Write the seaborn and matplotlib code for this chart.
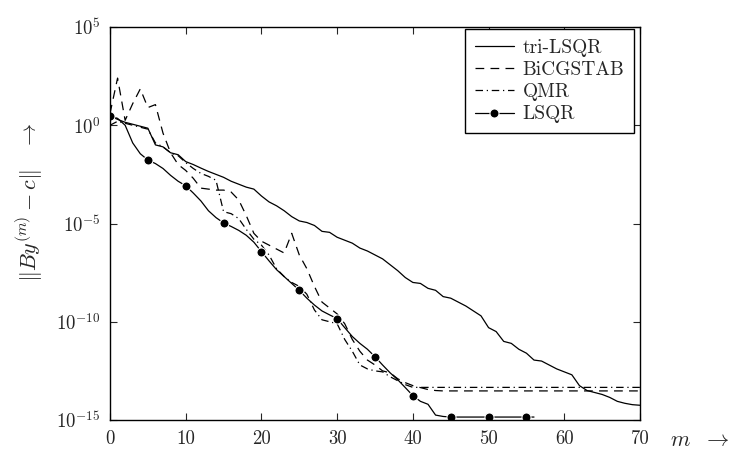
import numpy as np
import pandas as pd
import matplotlib
matplotlib.use("Agg")
import matplotlib.pyplot as plt
from matplotlib.ticker import FixedLocator, FixedFormatter
import seaborn as sns

# residual norms, stored as log10 exponents per iteration m
m_tri = list(range(0, 71))
tri_lsqr = [0.47, 0.3, 0.15, 0.05, -0.05, -0.15, -1.0, -1.1, -1.4, -1.5,
            -1.85, -2.0, -2.18, -2.35, -2.5, -2.65, -2.85, -3.0, -3.15, -3.25,
            -3.6, -3.9, -4.1, -4.35, -4.65, -4.87, -4.95, -5.1, -5.4, -5.45,
            -5.7, -5.85, -6.0, -6.25, -6.4, -6.6, -6.8, -7.1, -7.4, -7.75,
            -8.0, -8.05, -8.3, -8.4, -8.72, -8.8, -9.0, -9.2, -9.45, -9.7,
            -10.3, -10.5, -11.0, -11.1, -11.4, -11.6, -11.95, -12.0, -12.2, -12.4,
            -12.55, -12.7, -13.25, -13.5, -13.6, -13.7, -13.85, -14.05, -14.15, -14.22,
            -14.25]

m_bicg = list(range(0, 71))
bicgstab = [0.6, 2.4, 0.25, 1.1, 1.85, 0.9, 1.05, -0.4, -1.4, -2.0,
            -2.3, -2.7, -3.2, -3.25, -3.3, -3.3, -3.4, -3.8, -4.6, -5.5,
            -5.9, -6.1, -6.3, -6.5, -5.5, -6.6, -7.3, -8.2, -9.0, -9.3,
            -9.6, -10.1, -10.9, -11.5, -11.95, -12.2, -12.5, -12.6, -12.9, -13.1,
            -13.25, -13.35, -13.45, -13.5] + [-13.52] * 27

m_qmr = list(range(0, 71))
qmr = [0.0, 0.2, 0.1, 0.0, -0.1, -0.2, -0.9, -1.1, -1.4, -1.55,
       -1.9, -2.2, -2.45, -2.6, -2.8, -4.4, -4.5, -4.75, -5.3, -5.8,
       -6.1, -6.6, -7.3, -7.7, -8.0, -8.2, -8.6, -9.4, -9.9, -10.0,
       -10.1, -10.9, -11.5, -12.2, -12.4, -12.5, -12.55, -12.8, -13.0, -13.2,
       -13.34] + [-13.34] * 30

m_lsqr = list(range(0, 57))
lsqr = [0.47, 0.35, 0.0, -0.9, -1.45, -1.77, -1.95, -2.2, -2.55, -2.85,
        -3.08, -3.45, -3.85, -4.35, -4.7, -4.97, -5.15, -5.35, -5.6, -5.95,
        -6.43, -6.9, -7.35, -7.7, -8.05, -8.4, -8.8, -9.15, -9.45, -9.65,
        -9.84, -10.3, -10.75, -11.1, -11.4, -11.78, -12.2, -12.6, -12.95, -13.35,
        -13.76, -14.05, -14.2, -14.75, -14.82] + [-14.85] * 12

x_ticks = [0, 10, 20, 30, 40, 50, 60, 70]
y_exponents = [-15, -10, -5, 0, 5]

plt.rcParams.update({
    "font.family": "serif",
    "font.serif": ["cmr10", "DejaVu Serif"],
    "mathtext.fontset": "cm",
    "axes.unicode_minus": False,
    "axes.formatter.use_mathtext": True,
})
sns.set_style("ticks")
plt.rcParams["font.family"] = ["cmr10", "DejaVu Serif"]

fig = plt.figure(figsize=(7.45, 4.5), dpi=100)
ax = fig.add_axes([110 / 745, 30 / 450, 530 / 745, 393 / 450])

series = [
    ("tri-LSQR", m_tri, tri_lsqr, dict(linestyle="-")),
    ("BiCGSTAB", m_bicg, bicgstab, dict(linestyle=(0, (7, 5)))),
    ("QMR", m_qmr, qmr, dict(linestyle=(0, (6, 3, 1, 3)))),
    ("LSQR", m_lsqr, lsqr, dict(linestyle="-", marker="o", markersize=6.5,
                                markevery=list(range(0, 57, 5)))),
]

for name, xs, ys, style in series:
    df = pd.DataFrame({"m": xs, "res": np.power(10.0, ys)})
    sns.lineplot(data=df, x="m", y="res", ax=ax, color="black", linewidth=0.9,
                 label=name, **style)

ax.set_yscale("log")
ax.set_xlim(0, 70)
ax.set_ylim(1e-15, 1e5)

ax.xaxis.set_major_locator(FixedLocator(x_ticks))
ax.xaxis.set_major_formatter(FixedFormatter([str(t) for t in x_ticks]))
ax.yaxis.set_major_locator(FixedLocator([10.0 ** e for e in y_exponents]))
ax.yaxis.set_major_formatter(FixedFormatter([r"$10^{%d}$" % e for e in y_exponents]))
ax.yaxis.set_minor_locator(FixedLocator([]))

ax.tick_params(which="both", direction="in", top=True, right=True,
               length=5, width=0.8, labelsize=13.5, pad=7)
for spine in ax.spines.values():
    spine.set_visible(True)
    spine.set_linewidth(1.0)
    spine.set_color("black")

ax.set_xlabel("")
ax.set_ylabel("")
fig.text(30 / 745, 1 - 202 / 450, r"$\Vert By^{(m)}-c\Vert\quad\rightarrow$",
         rotation=90, ha="center", va="center", fontsize=16)
fig.text(700 / 745, 1 - 440 / 450, r"$m\ \ \rightarrow$", ha="center",
         va="center", fontsize=16)

leg = ax.legend(loc="upper right", bbox_to_anchor=(634 / 745, 1 - 29 / 450),
                bbox_transform=fig.transFigure, borderaxespad=0,
                fontsize=14, frameon=True, fancybox=False,
                edgecolor="black", framealpha=1,
                handlelength=2.0, handletextpad=0.45, labelspacing=0.22,
                borderpad=0.5)
leg.get_frame().set_linewidth(1.0)

fig.savefig("out.png", dpi=100)
